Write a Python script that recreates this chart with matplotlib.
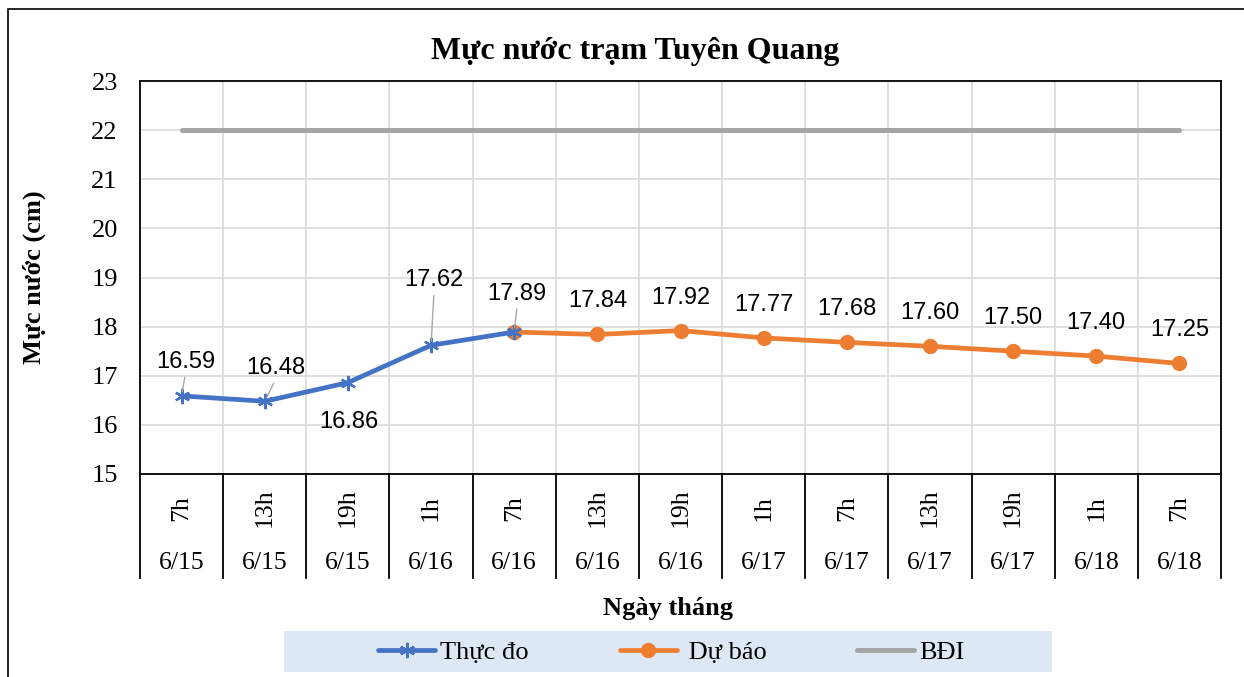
import matplotlib.pyplot as plt
from matplotlib.patches import Rectangle
from matplotlib.lines import Line2D

hours = ["7h", "13h", "19h", "1h", "7h", "13h", "19h", "1h", "7h", "13h", "19h", "1h", "7h"]
dates = ["6/15", "6/15", "6/15", "6/16", "6/16", "6/16", "6/16", "6/17", "6/17", "6/17", "6/17", "6/18", "6/18"]
thuc_do = [16.59, 16.48, 16.86, 17.62, 17.89]
du_bao = [17.89, 17.84, 17.92, 17.77, 17.68, 17.60, 17.50, 17.40, 17.25]
bdi = [22] * 13

serif = "Liberation Serif"
sans = "Liberation Sans"
blue = "#4472C4"
orange = "#ED7D31"
gray = "#A5A5A5"

fig = plt.figure(figsize=(12.44, 6.77), dpi=100)
ax = fig.add_axes([140 / 1244, 1 - 474 / 677, 1081 / 1244, 393 / 677])

n = len(hours)
x_all = list(range(n))
x_td = x_all[:len(thuc_do)]
x_db = x_all[len(thuc_do) - 1:]

ax.plot(x_all, bdi, color=gray, lw=3.6, solid_capstyle="round", zorder=3)
ax.plot(x_db, du_bao, color=orange, lw=3.4, marker="o", ms=10,
        solid_capstyle="round", zorder=4)
ax.plot(x_td, thuc_do, color=blue, lw=3.4, marker=(6, 2, 0), ms=11, mew=1.6,
        mec=blue, solid_capstyle="round", zorder=5)

ax.set_xlim(-0.5, n - 0.5)
ax.set_ylim(15, 23)
ax.set_yticks(range(15, 24))
ax.set_xticks([i + 0.5 for i in range(n - 1)])
ax.set_xticklabels([])
ax.tick_params(axis="both", length=0)
ax.tick_params(axis="y", pad=16)
for t in ax.get_yticklabels():
    t.set_fontfamily(serif)
    t.set_fontsize(19)
ax.grid(True, color="#D9D9D9", lw=1.2, zorder=0)
for s in ax.spines.values():
    s.set_color("black")
    s.set_linewidth(1.3)

pt = 100 / 72.0  # px per point
# labels for measured series: (dx, dy) in pixels, leader line or not
td_off = [(4, 34, True), (11, 33, True), (1, -39, False), (3, 65, True), (3, 38, True)]
for xi, v, (dx, dy, lead) in zip(x_td, thuc_do, td_off):
    ax.annotate(f"{v:.2f}", (xi, v), xytext=(dx / pt, dy / pt), textcoords="offset points",
                ha="center", va="center", fontsize=17, family=sans, zorder=6,
                arrowprops=dict(arrowstyle="-", color="#A6A6A6", lw=1, shrinkA=1, shrinkB=3,
                                relpos=(0.5, 0)) if lead else None)
for xi, v in zip(x_db[1:], du_bao[1:]):
    ax.annotate(f"{v:.2f}", (xi, v), xytext=(0, 33 / pt), textcoords="offset points",
                ha="center", va="center", fontsize=17, family=sans, zorder=6)

# category axis with separators
tr = ax.get_xaxis_transform()
for b in range(n + 1):
    ax.plot([b - 0.5, b - 0.5], [0, -0.2646], transform=tr, color="black", lw=1.3,
            clip_on=False)
for i in range(n):
    ax.text(i, -0.0865, hours[i], transform=tr, rotation=90, ha="center", va="center",
            fontsize=18.5, family=serif)
    ax.text(i, -0.2265, dates[i], transform=tr, ha="center", va="center",
            fontsize=18.5, family=serif)

ax.text(0.488, -0.341, "Ngày tháng", transform=ax.transAxes, ha="center", va="center",
        fontsize=19, family=serif, weight="bold")
ax.text(-0.098, 0.5, "Mực nước (cm)", transform=ax.transAxes, ha="center", va="center",
        rotation=90, fontsize=19, family=serif, weight="bold")
fig.text(0.5105, 1 - 51 / 677, "Mực nước trạm Tuyên Quang", ha="center", va="center",
         fontsize=23, family=serif, weight="bold")

# outer chart border
fig.patches.append(Rectangle((8 / 1244, -0.1), 1.2, 1 - 9 / 677 + 0.1, transform=fig.transFigure,
                             fill=False, edgecolor="black", lw=1.2))

# legend
fig.patches.append(Rectangle((284 / 1244, 1 - 672 / 677), 768 / 1244, 41 / 677,
                             transform=fig.transFigure, facecolor="#DEE8F4", edgecolor="none"))
handles = [
    Line2D([], [], color=blue, lw=3.4, marker=(6, 2, 0), ms=11, mew=1.6, solid_capstyle="round"),
    Line2D([], [], color=orange, lw=3.4, marker="o", ms=10, solid_capstyle="round"),
    Line2D([], [], color=gray, lw=3.6, solid_capstyle="round"),
]
fig.legend(handles, ["Thực đo", " Dự báo", "BĐI"], loc="center left",
           bbox_to_anchor=(378 / 1244, 1 - 652 / 677), ncol=3, frameon=False,
           borderpad=0, borderaxespad=0,
           prop={"family": serif, "size": 19}, handlelength=2.16, handletextpad=0.19,
           columnspacing=3.45)

fig.savefig("out.png", dpi=100)
